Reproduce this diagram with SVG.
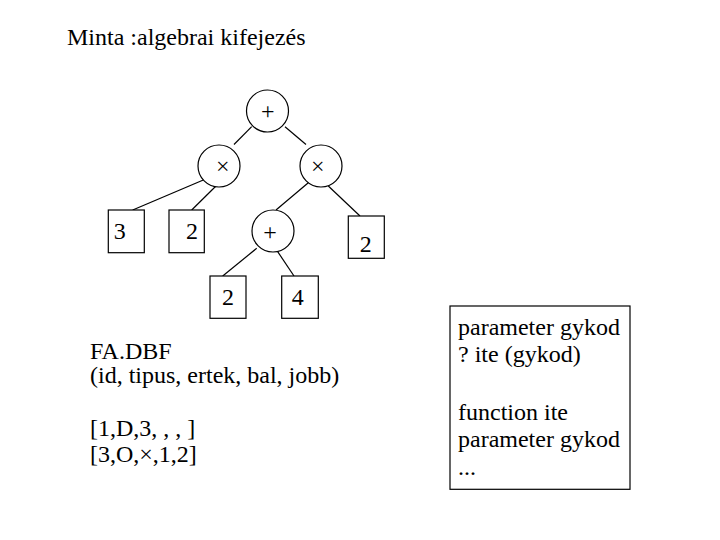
<svg xmlns="http://www.w3.org/2000/svg" width="720" height="540" viewBox="0 0 720 540">
<style>
text{font-family:"Liberation Serif","Times New Roman",serif;font-size:24px;fill:#000}
.c{text-anchor:middle}
circle,rect.n{fill:#fff;stroke:#000;stroke-width:1.2}
#edges line{stroke:#000;stroke-width:1.2}
</style>
<rect width="720" height="540" fill="#fff"/>
<text x="67" y="45">Minta :algebrai kifejezés</text>
<g id="edges">
<line x1="251.7" y1="126.7" x2="234" y2="144.5"/>
<line x1="285" y1="126.7" x2="306" y2="144.5"/>
<line x1="203.3" y1="180" x2="132.7" y2="210"/>
<line x1="216" y1="186" x2="191.7" y2="210"/>
<line x1="308.3" y1="182.7" x2="276" y2="210"/>
<line x1="328.3" y1="186" x2="360" y2="216"/>
<line x1="256.7" y1="248.3" x2="222.7" y2="276"/>
<line x1="277.7" y1="251.7" x2="294" y2="276"/>
</g>
<g id="n_plus_top"><circle cx="267.5" cy="111" r="21"/><text class="c" x="267.7" y="118.5">+</text></g>
<g id="n_times_left"><circle cx="219" cy="166" r="21"/><text class="c" x="222.7" y="173.5">×</text></g>
<g id="n_times_right"><circle cx="321" cy="166" r="21"/><text class="c" x="317.7" y="173.5">×</text></g>
<g id="n_plus_inner"><circle cx="273" cy="231" r="21"/><text class="c" x="270" y="239.5">+</text></g>
<g id="n_3"><rect class="n" x="108.3" y="210" width="36" height="42.7"/><text class="c" x="119.7" y="239.3">3</text></g>
<g id="n_2a"><rect class="n" x="169" y="210" width="35.3" height="42.7"/><text class="c" x="192" y="239.3">2</text></g>
<g id="n_2b"><rect class="n" x="348.3" y="216" width="36" height="42.3"/><text class="c" x="365.7" y="251.7">2</text></g>
<g id="n_2c"><rect class="n" x="210" y="276" width="36" height="42.3"/><text class="c" x="228" y="305">2</text></g>
<g id="n_4"><rect class="n" x="281.7" y="276" width="36.6" height="42.3"/><text class="c" x="297.8" y="305">4</text></g>
<g id="fa">
<text x="90" y="359.3">FA.DBF</text>
<text x="90" y="383">(id, tipus, ertek, bal, jobb)</text>
<text x="90" y="436">[1,D,3, , , ]</text>
<text x="90" y="461.7">[3,O,×,1,2]</text>
</g>
<g id="codebox">
<rect class="n" x="450" y="306" width="180" height="183.3"/>
<text x="458" y="335">parameter gykod</text>
<text x="458" y="361.5">? ite (gykod)</text>
<text x="458" y="419.5">function ite</text>
<text x="458" y="446.5">parameter gykod</text>
<text x="458" y="475">...</text>
</g>
</svg>
